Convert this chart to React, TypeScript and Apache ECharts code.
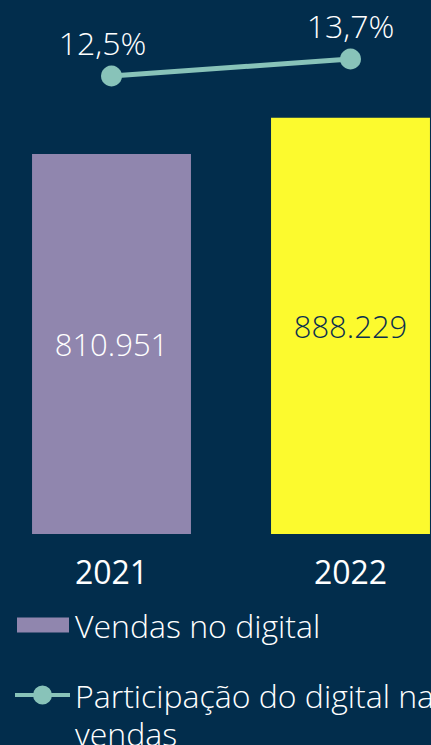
import React, { useEffect, useRef } from "react";
import * as echarts from "echarts";

const categories = ["2021", "2022"];
const salesDigital = [810951, 888229];
const digitalShare = [12.5, 13.7];
const barColors = ["#9086AE", "#FCFA2E"];
const barLabelColors = ["#FFFFFF", "#0B2F4E"];
const seriesNames = ["Vendas no digital", "Participação do digital na vendas"];

const BG = "#022D4C";
const TEAL = "#88C3B9";
const FONT = "'Open Sans', 'Noto Sans', sans-serif";
const RECT_ICON = "path://M0,0ZM2,2H54V17H2ZM55,19Z";
const LINE_ICON =
  "path://M0,7.5H55V11.5H0ZM18,9.5a9.5,9.5 0 1,1 19,0a9.5,9.5 0 1,1 -19,0Z";

function fmtThousands(v: number): string {
  return String(Math.round(v)).replace(/\B(?=(\d{3})+(?!\d))/g, ".");
}

const legendText = {
  color: "#FFFFFF",
  fontSize: 32,
  fontWeight: 300,
  fontFamily: FONT,
  lineHeight: 38,
};

export default function App() {
  const ref = useRef<HTMLDivElement>(null);
  useEffect(() => {
    if (!ref.current) return;
    const chart = echarts.init(ref.current, null, { renderer: "svg" });
    chart.setOption({
      animation: false,
      backgroundColor: BG,
      textStyle: { fontFamily: FONT },
      grid: { left: 0, right: 0, top: 0, bottom: 286 },
      legend: {
        orient: "vertical",
        left: 23,
        top: 606,
        padding: 0,
        itemWidth: 55,
        itemHeight: 19,
        itemGap: -6,
        textStyle: {
          ...legendText,
          rich: {
            t: { ...legendText },
            s: { ...legendText },
          },
        },
        formatter: (name: string) =>
          name === seriesNames[1]
            ? "{s| }\n{t|Participação do digital na}\n{t|vendas}"
            : "{t|" + name + "}",
        data: [
          { name: seriesNames[0], icon: RECT_ICON, itemStyle: { color: barColors[0] } },
          { name: seriesNames[1], icon: LINE_ICON, itemStyle: { color: TEAL } },
        ],
      },
      xAxis: {
        type: "category",
        data: categories,
        axisLine: { show: false },
        axisTick: { show: false },
        axisLabel: {
          color: "#FFFFFF",
          fontSize: 32,
          fontWeight: 500,
          fontFamily: FONT,
          margin: 21,
        },
      },
      yAxis: [
        { type: "value", min: 0, max: 1139600, show: false, splitLine: { show: false } },
        { type: "value", min: -19.83, max: 17.865, show: false, splitLine: { show: false } },
      ],
      series: [
        {
          name: seriesNames[0],
          type: "bar",
          barWidth: "66.5%",
          itemStyle: { color: barColors[0] },
          data: salesDigital.map((v, i) => ({
            value: v,
            itemStyle: { color: barColors[i] },
            label: { color: barLabelColors[i] },
          })),
          label: {
            show: true,
            position: "inside",
            fontSize: 31,
            fontWeight: 300,
            fontFamily: FONT,
            formatter: (p: any) => fmtThousands(p.value),
          },
        },
        {
          name: seriesNames[1],
          type: "line",
          yAxisIndex: 1,
          clip: false,
          symbol: "circle",
          symbolSize: 21,
          lineStyle: { color: TEAL, width: 5 },
          itemStyle: { color: TEAL },
          data: digitalShare.map((v, i) => ({
            value: v,
            label: i === 0 ? { offset: [-9, 0] } : {},
          })),
          label: {
            show: true,
            position: "top",
            distance: 7,
            color: "#FFFFFF",
            fontSize: 32,
            fontWeight: 300,
            fontFamily: FONT,
            formatter: (p: any) => String(p.value).replace(".", ",") + "%",
          },
        },
      ],
    });
    return () => chart.dispose();
  }, []);
  return (
    <div
      ref={ref}
      style={{ position: "fixed", left: -8, top: 0, width: 478, height: 820, background: BG }}
    />
  );
}
